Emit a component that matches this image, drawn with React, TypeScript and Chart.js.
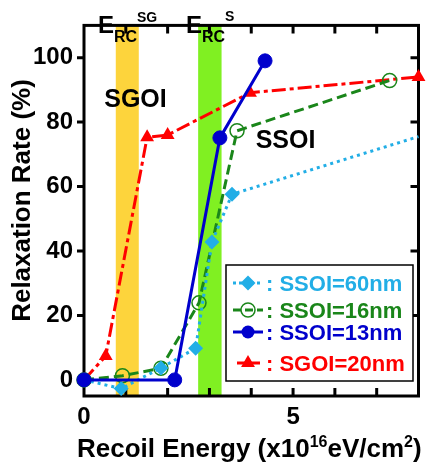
import React, { useEffect, useRef } from "react";
import { Chart, registerables } from "chart.js";

Chart.register(...registerables);

// ---- data ----
const ssoi60X = [0, 0.89, 1.84, 2.67, 3.06, 3.54, 8.0];
const ssoi60Y = [0, -2.7, 3.7, 9.8, 42.8, 57.6, 75.5];
const ssoi60R = [0, 7.5, 7.5, 7.5, 7.5, 7.5, 0];
const ssoi16X = [0, 0.92, 1.84, 2.75, 3.66, 7.31];
const ssoi16Y = [0, 1.3, 3.6, 23.9, 77.3, 92.9];
const ssoi13X = [0, 2.17, 3.25, 4.33];
const ssoi13Y = [0, 0, 75.1, 99];
const sgoi20X = [0, 0.52, 1.51, 2.0, 3.97, 8.0];
const sgoi20Y = [0, 7.4, 75.3, 76, 89.1, 94];

const seriesLabels = ["SSOI=60nm", "SSOI=16nm", "SSOI=13nm", "SGOI=20nm"];
const xTicks = [0, 1, 2, 3, 4, 5, 6, 7, 8];
const xLabeled = [0, 5];
const yTicks = [0, 20, 40, 60, 80, 100];
const bandSG = [0.76, 1.31];
const bandS = [2.73, 3.29];

const FONT = 'Arial, "Liberation Sans", sans-serif';
const CYAN = "#22AEE6";
const GREEN = "#1A861A";
const BLUE = "#0000CC";
const RED = "#FF0000";

const pts = (xs: number[], ys: number[]) => xs.map((x, i) => ({ x, y: ys[i] }));

function drawMarker(ctx: CanvasRenderingContext2D, kind: string, x: number, y: number, r: number, color: string) {
  ctx.save();
  ctx.setLineDash([]);
  ctx.beginPath();
  if (kind === "diamond") {
    ctx.moveTo(x, y - r);
    ctx.lineTo(x + r, y);
    ctx.lineTo(x, y + r);
    ctx.lineTo(x - r, y);
    ctx.closePath();
    ctx.fillStyle = color;
    ctx.fill();
  } else if (kind === "open") {
    ctx.arc(x, y, r, 0, Math.PI * 2);
    ctx.lineWidth = 1.5;
    ctx.strokeStyle = color;
    ctx.stroke();
  } else if (kind === "circle") {
    ctx.arc(x, y, r, 0, Math.PI * 2);
    ctx.fillStyle = color;
    ctx.fill();
  } else if (kind === "triangle") {
    for (let k = 0; k < 3; k++) {
      const a = -Math.PI / 2 + (k * 2 * Math.PI) / 3;
      const px = x + Math.cos(a) * r;
      const py = y + Math.sin(a) * r;
      if (k === 0) ctx.moveTo(px, py);
      else ctx.lineTo(px, py);
    }
    ctx.closePath();
    ctx.fillStyle = color;
    ctx.fill();
  }
  ctx.restore();
}

const deco = {
  id: "deco",
  beforeDatasetsDraw(chart: any) {
    const { ctx, chartArea: a, scales } = chart;
    const x = scales.x;
    const y = scales.y;
    ctx.save();
    const bands: [number[], string][] = [
      [bandSG, "#FDD43C"],
      [bandS, "#80F022"],
    ];
    bands.forEach(([b, c]) => {
      const x0 = x.getPixelForValue(b[0]);
      const x1 = x.getPixelForValue(b[1]);
      ctx.fillStyle = c;
      ctx.fillRect(x0, a.top, x1 - x0, a.bottom - a.top);
    });
    ctx.lineWidth = 3;
    ctx.strokeStyle = "#000";
    ctx.beginPath();
    yTicks.forEach((v) => {
      const py = y.getPixelForValue(v);
      ctx.moveTo(a.left - 7, py);
      ctx.lineTo(a.left, py);
      if (v > 0) {
        ctx.moveTo(a.right, py);
        ctx.lineTo(a.right - 8, py);
      }
    });
    xTicks.forEach((v) => {
      if (v <= 0 || v >= 8) return;
      const px = x.getPixelForValue(v);
      ctx.moveTo(px, a.top);
      ctx.lineTo(px, a.top + 8);
      ctx.moveTo(px, a.bottom);
      ctx.lineTo(px, a.bottom - 8);
    });
    ctx.stroke();
    ctx.strokeRect(a.left, a.top, a.right - a.left, a.bottom - a.top);
    ctx.restore();
  },
  afterDatasetsDraw(chart: any) {
    const { ctx } = chart;
    ctx.save();
    ctx.fillStyle = "#000";
    ctx.textBaseline = "alphabetic";
    ctx.textAlign = "left";
    // E_RC^SG and E_RC^S
    ctx.font = `bold 24px ${FONT}`;
    ctx.fillText("E", 98, 33);
    ctx.fillText("E", 186, 33);
    ctx.font = `bold 16px ${FONT}`;
    ctx.fillText("RC", 114, 42);
    ctx.fillText("RC", 202, 42);
    ctx.font = `bold 14px ${FONT}`;
    ctx.fillText("SG", 137, 22);
    ctx.fillText("S", 225, 21);
    // region labels
    ctx.font = `bold 25px ${FONT}`;
    ctx.textAlign = "center";
    ctx.fillText("SGOI", 135.5, 107);
    ctx.fillText("SSOI", 285.5, 148);

    // y title
    ctx.save();
    ctx.font = `bold 26px ${FONT}`;
    ctx.translate(30, 200.5);
    ctx.rotate(-Math.PI / 2);
    ctx.textAlign = "center";
    ctx.fillText("Relaxation Rate (%)", 0, 0);
    ctx.restore();

    // x title with superscripts
    ctx.textAlign = "left";
    const parts: [string, boolean][] = [
      ["Recoil Energy (x10", false],
      ["16", true],
      ["eV/cm", false],
      ["2", true],
      [")", false],
    ];
    let cx = 77;
    const base = 457;
    parts.forEach(([t, sup]) => {
      ctx.font = sup ? `bold 16px ${FONT}` : `bold 26px ${FONT}`;
      ctx.fillText(t, cx, sup ? base - 10 : base);
      cx += ctx.measureText(t).width;
    });

    // legend
    ctx.fillStyle = "#fff";
    ctx.fillRect(226, 265, 187, 116);
    ctx.lineWidth = 1.5;
    ctx.strokeStyle = "#000";
    ctx.strokeRect(226, 265, 187, 116);
    const rows = [
      { yc: 283, color: CYAN, dash: [3, 3], marker: "diamond", r: 7.5, l0: 233, l1: 263 },
      { yc: 310, color: GREEN, dash: [8, 4], marker: "open", r: 7, l0: 233, l1: 263 },
      { yc: 332, color: BLUE, dash: [], marker: "circle", r: 6.5, l0: 233, l1: 263 },
      { yc: 363, color: RED, dash: [], marker: "triangle", r: 8, l0: 237, l1: 260 },
    ];
    rows.forEach((row, i) => {
      ctx.save();
      ctx.strokeStyle = row.color;
      ctx.lineWidth = 3;
      ctx.setLineDash(row.dash);
      ctx.beginPath();
      ctx.moveTo(row.l0, row.yc);
      ctx.lineTo(row.l1, row.yc);
      ctx.stroke();
      ctx.restore();
      drawMarker(ctx, row.marker, 248, row.yc, row.r, row.color);
      ctx.font = `bold 22px ${FONT}`;
      ctx.fillStyle = row.color;
      ctx.textAlign = "left";
      ctx.fillText(": " + seriesLabels[i], 266, row.yc + 8);
    });
    ctx.restore();
  },
};

export default function App() {
  const ref = useRef<HTMLCanvasElement | null>(null);
  useEffect(() => {
    if (!ref.current) return;
    const chart = new Chart(ref.current, {
      type: "line",
      data: {
        datasets: [
          {
            label: seriesLabels[2],
            data: pts(ssoi13X, ssoi13Y),
            borderColor: BLUE,
            backgroundColor: BLUE,
            borderWidth: 3,
            pointStyle: "circle",
            pointRadius: 7,
            pointBorderWidth: 1,
            order: 0,
            clip: false,
          },
          {
            label: seriesLabels[0],
            data: pts(ssoi60X, ssoi60Y),
            borderColor: CYAN,
            backgroundColor: CYAN,
            borderWidth: 3,
            borderDash: [3, 4],
            pointStyle: "rectRot",
            pointRadius: ssoi60R,
            pointBorderWidth: 0,
            order: 1,
            clip: false,
          },
          {
            label: seriesLabels[1],
            data: pts(ssoi16X, ssoi16Y),
            borderColor: GREEN,
            backgroundColor: "rgba(0,0,0,0)",
            borderWidth: 3,
            borderDash: [10, 5],
            pointStyle: "circle",
            pointRadius: 7,
            pointBorderWidth: 1.5,
            pointBorderColor: GREEN,
            order: 2,
            clip: false,
          },
          {
            label: seriesLabels[3],
            data: pts(sgoi20X, sgoi20Y),
            borderColor: RED,
            backgroundColor: RED,
            borderWidth: 3,
            borderDash: [14, 4, 4, 4],
            pointStyle: "triangle",
            pointRadius: 8,
            pointBorderWidth: 0,
            order: 3,
            clip: false,
          },
        ],
      },
      options: {
        responsive: false,
        animation: false,
        devicePixelRatio: 1,
        layout: { padding: { left: 0, top: 7, right: 6, bottom: 0 } },
        plugins: { legend: { display: false }, tooltip: { enabled: false } },
        elements: { line: { tension: 0 } },
        scales: {
          x: {
            type: "linear",
            min: 0,
            max: 8,
            afterBuildTicks: (s: any) => {
              s.ticks = xTicks.map((v) => ({ value: v }));
            },
            afterFit: (s: any) => {
              s.height = 70;
            },
            ticks: {
              autoSkip: false,
              maxRotation: 0,
              padding: 7,
              color: "#000",
              font: { family: FONT, size: 24, weight: "bold" },
              callback: (v: any) => (xLabeled.includes(Number(v)) ? String(v) : ""),
            },
            grid: { display: false, drawTicks: false },
            border: { display: false },
          },
          y: {
            type: "linear",
            min: -5,
            max: 110,
            afterBuildTicks: (s: any) => {
              s.ticks = yTicks.map((v) => ({ value: v }));
            },
            afterFit: (s: any) => {
              s.width = 84;
            },
            ticks: {
              padding: 11,
              color: "#000",
              font: { family: FONT, size: 24, weight: "bold" },
            },
            grid: { display: false, drawTicks: false },
            border: { display: false },
          },
        },
      } as any,
      plugins: [deco],
    });
    return () => chart.destroy();
  }, []);
  return (
    <div style={{ position: "absolute", left: 0, top: 0, width: 427, height: 466 }}>
      <canvas ref={ref} width={427} height={466} style={{ display: "block" }} />
    </div>
  );
}
